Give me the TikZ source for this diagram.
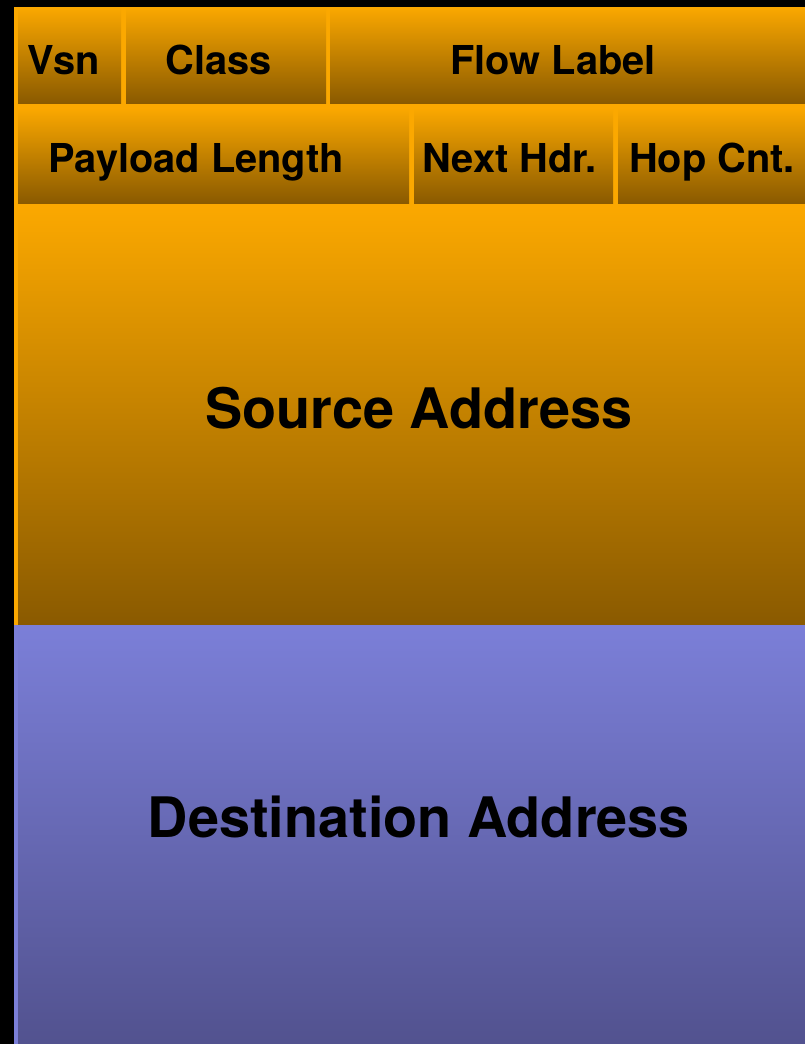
\documentclass[tikz,border=0pt]{standalone}
\usepackage{fontspec}
\setmainfont{TeX Gyre Heros}
\definecolor{ortop}{RGB}{251,168,0}
\definecolor{orbot}{RGB}{138,90,0}
\definecolor{bltop}{RGB}{123,127,216}
\definecolor{blbot}{RGB}{82,82,143}
\tikzset{
  fieldbox/.style={top color=ortop, bottom color=orbot},
  smalltxt/.style={anchor=base, inner sep=0pt, font=\fontsize{39.8}{40}\selectfont\bfseries},
  bigtxt/.style={anchor=base, inner sep=0pt, font=\fontsize{55.8}{56}\selectfont\bfseries}
}
\begin{document}
\begin{tikzpicture}[x=1pt,y=-1pt]
\useasboundingbox (0,0) rectangle (805,1044);
\fill[black] (0,0) rectangle (805,1044);
\fill[ortop] (14,7) rectangle (805,625);
\fill[bltop] (14,625) rectangle (805,1044);
% row 1
\shade[fieldbox] (18,7) rectangle (121,103);
\shade[fieldbox] (126,7) rectangle (326,103);
\shade[fieldbox] (330,7) rectangle (805,103);
% row 2
\shade[fieldbox] (18,108) rectangle (409,203);
\shade[fieldbox] (414,108) rectangle (613,203);
\shade[fieldbox] (618,108) rectangle (805,203);
% source
\shade[fieldbox] (18,207) rectangle (805,625);
% destination
\shade[top color=bltop, bottom color=blbot] (18,625) rectangle (805,1044);
% texts
\node[smalltxt] (vsn) at (63.5,74) {Vsn};
\node[smalltxt] (cls) at (218.5,74) {Class};
\node[smalltxt] (flow) at (553,74) {Flow Label};
\node[smalltxt] (plen) at (196,172) {Payload Length};
\node[smalltxt] (nhdr) at (509.5,172) {Next Hdr.};
\node[smalltxt] (hop) at (712,172) {Hop Cnt.};
\node[bigtxt] (src) at (419,428) {Source Address};
\node[bigtxt] (dst) at (419,837) {Destination Address};
\end{tikzpicture}
\end{document}
